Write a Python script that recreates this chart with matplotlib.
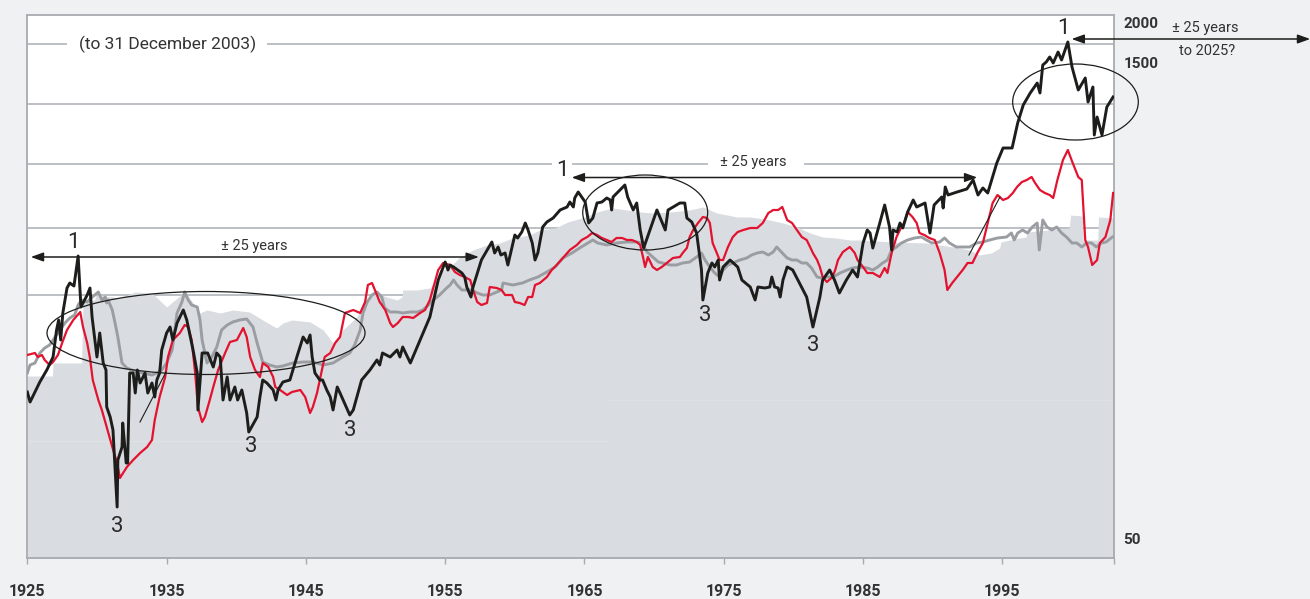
import numpy as np
import matplotlib
matplotlib.use("Agg")
import matplotlib.pyplot as plt
from matplotlib.patches import Ellipse

plt.rcParams['font.family'] = ['Roboto', 'DejaVu Sans']

# ---------------- data (year, index level) ----------------
black = [(1925.0,166),(1925.2,156),(1925.9,176),(1926.4,188),(1926.85,201),(1927.1,228),(1927.25,238),
 (1927.4,218),(1927.55,245),(1927.85,270),(1928.05,275),(1928.35,272),(1928.65,302),(1928.85,251),
 (1929.3,263),(1929.5,270),(1929.65,241),(1930.0,201),(1930.2,225),(1930.45,195),(1930.65,188),
 (1930.7,151),(1930.95,141),(1931.15,128),(1931.45,51),(1931.5,98),(1931.8,111),(1931.85,135),
 (1932.1,95),(1932.2,95),(1932.35,185),(1932.6,185),(1932.75,165),(1932.9,188),(1933.1,175),
 (1933.45,185),(1933.65,165),(1933.95,175),(1934.15,161),(1934.3,178),(1934.5,185),(1934.65,208),
 (1935.0,225),(1935.25,231),(1935.45,218),(1935.75,235),(1936.2,248),(1936.45,238),(1936.9,208),
 (1937.2,185),(1937.25,148),(1937.55,205),(1937.95,205),(1938.35,191),(1938.6,205),(1938.85,201),
 (1939.05,158),(1939.35,181),(1939.55,158),(1939.9,171),(1940.1,158),(1940.4,168),(1940.75,145),
 (1940.9,126),(1941.5,141),(1941.7,161),(1941.9,178),(1942.2,175),(1942.65,168),(1942.85,158),
 (1943.0,168),(1943.35,176),(1943.85,178),(1944.35,201),(1944.8,221),(1945.1,215),(1945.3,223),
 (1945.45,201),(1945.65,185),(1946.0,178),(1946.2,178),(1946.5,168),(1946.75,161),(1946.95,148),
 (1947.25,171),(1947.45,165),(1948.15,143),(1948.4,148),(1949.0,178),(1949.6,188),(1950.1,198),
 (1950.3,193),(1950.5,205),(1951.05,201),(1951.55,208),(1951.75,201),(1951.95,211),(1952.5,195),
 (1953.2,218),(1953.9,241),(1954.5,278),(1955.0,296),(1955.2,288),(1955.35,293),(1955.6,291),
 (1955.9,288),(1956.2,285),(1956.4,281),(1956.55,271),(1956.85,261),(1957.0,271),(1957.6,298),
 (1958.35,316),(1958.55,305),(1958.8,311),(1959.0,303),(1959.3,305),(1959.5,293),(1959.8,311),
 (1960.0,323),(1960.2,320),(1960.5,326),(1960.75,335),(1960.95,328),(1961.25,315),(1961.45,298),
 (1961.65,305),(1962.0,331),(1962.3,336),(1962.75,340),(1963.25,348),(1963.75,351),(1963.95,356),
 (1964.2,351),(1964.3,360),(1964.55,366),(1964.8,361),(1965.05,356),(1965.3,335),(1965.6,340),
 (1965.9,355),(1966.25,356),(1966.6,360),(1966.85,358),(1966.95,348),(1967.05,361),(1967.55,368),
 (1967.9,373),(1968.1,361),(1968.5,348),(1968.75,355),(1969.0,328),(1969.25,310),(1970.2,348),
 (1970.8,328),(1971.0,348),(1971.85,355),(1972.2,355),(1972.35,340),(1972.7,336),(1973.05,325),
 (1973.4,288),(1973.5,258),(1973.85,285),(1974.15,295),(1974.35,291),(1974.6,298),(1974.7,278),
 (1974.95,291),(1975.45,298),(1976.0,291),(1976.3,278),(1976.9,271),(1977.25,258),(1977.45,271),
 (1977.95,270),(1978.3,271),(1978.45,281),(1978.65,271),(1978.9,270),(1979.05,261),(1979.25,278),
 (1979.55,291),(1979.7,290),(1979.95,288),(1980.95,261),(1981.4,231),(1981.9,261),(1982.1,278),
 (1982.6,288),(1982.95,278),(1983.3,265),(1983.8,278),(1984.25,288),(1984.6,281),(1985.0,315),
 (1985.3,328),(1985.5,325),(1985.7,310),(1986.2,335),(1986.55,353),(1986.9,331),(1987.05,308),
 (1987.15,328),(1987.45,326),(1987.65,335),(1987.85,330),(1988.2,346),(1988.6,358),(1988.85,351),
 (1989.45,355),(1989.8,325),(1990.1,353),(1990.65,361),(1990.75,350),(1990.9,371),(1991.1,363),
 (1991.75,366),(1992.45,369),(1992.9,378),(1993.25,363),(1993.6,370),(1993.95,365),(1994.6,395),
 (1995.05,410),(1995.7,410),(1996.1,435),(1996.5,453),(1997.0,465),(1997.5,475),(1997.7,465),
 (1997.9,493),(1998.15,496),(1998.4,501),(1998.65,495),(1999.0,506),(1999.25,498),(1999.7,516),
 (2000.0,491),(2000.45,468),(2000.95,480),(2001.15,456),(2001.5,471),(2001.6,423),(2001.8,441),
 (2002.15,423),(2002.5,451),(2002.95,461)]

red = [(1925.0,203),(1925.55,205),(1925.75,201),(1926.05,203),(1926.25,198),(1926.6,193),(1926.85,196),
 (1927.2,203),(1927.5,215),(1927.85,228),(1928.3,238),(1928.8,246),(1929.0,231),(1929.3,215),
 (1929.5,200),(1929.7,178),(1930.1,158),(1930.35,148),(1930.7,131),(1931.1,111),(1931.45,95),
 (1931.65,80),(1932.15,91),(1932.6,98),(1933.1,105),(1933.6,111),(1933.95,118),(1934.15,138),
 (1934.5,161),(1934.9,181),(1935.1,201),(1935.45,218),(1935.95,225),(1936.3,233),(1936.55,231),
 (1936.8,218),(1937.05,185),(1937.25,151),(1937.55,136),(1937.75,141),(1938.1,158),(1938.35,171),
 (1938.7,188),(1939.2,205),(1939.55,216),(1940.05,218),(1940.5,230),(1940.75,221),(1941.0,201),
 (1941.35,188),(1941.7,181),(1941.9,195),(1942.3,191),(1942.65,181),(1942.8,171),(1943.15,168),
 (1943.65,163),(1944.0,166),(1944.6,168),(1944.95,161),(1945.3,145),(1945.5,151),(1945.8,165),
 (1946.0,178),(1946.35,201),(1946.75,205),(1947.1,215),(1947.45,221),(1947.8,245),(1948.4,248),
 (1948.9,245),(1949.25,256),(1949.45,273),(1949.75,275),(1949.95,268),(1950.3,256),(1950.7,248),
 (1951.05,235),(1951.25,231),(1951.6,235),(1951.95,241),(1952.35,241),(1952.7,240),(1953.2,245),
 (1953.55,248),(1953.9,258),(1954.1,268),(1954.5,288),(1954.85,295),(1955.35,293),(1955.7,286),
 (1956.05,283),(1956.4,281),(1956.8,278),(1957.0,268),(1957.3,256),(1957.6,253),(1958.0,255),
 (1958.2,271),(1958.7,270),(1959.05,268),(1959.3,263),(1959.8,263),(1960.0,256),(1960.35,255),
 (1960.7,253),(1960.95,261),(1961.25,261),(1961.45,273),(1961.8,275),(1962.3,281),(1962.65,288),
 (1963.0,293),(1963.45,300),(1963.95,308),(1964.45,313),(1964.8,318),(1965.2,321),(1965.55,325),
 (1965.9,323),(1966.25,320),(1966.6,318),(1966.95,316),(1967.3,320),(1967.7,320),(1968.05,318),
 (1968.4,318),(1968.75,316),(1969.0,313),(1969.2,301),(1969.35,291),(1969.55,301),(1969.9,291),
 (1970.2,288),(1970.55,291),(1970.9,295),(1971.35,300),(1971.85,301),(1972.05,305),(1972.35,310),
 (1972.55,321),(1972.8,328),(1973.15,335),(1973.5,341),(1973.8,340),(1974.0,335),(1974.2,315),
 (1974.5,305),(1974.7,298),(1974.95,298),(1975.3,311),(1975.65,321),(1976.0,326),(1976.4,328),
 (1976.9,330),(1977.4,330),(1977.8,335),(1978.2,345),(1978.55,348),(1978.9,348),(1979.2,351),
 (1979.55,338),(1979.9,335),(1980.25,328),(1980.6,321),(1980.95,318),(1981.2,311),(1981.4,305),
 (1981.7,298),(1981.9,291),(1982.1,281),(1982.4,276),(1982.8,281),(1983.0,288),(1983.2,298),
 (1983.55,306),(1984.05,311),(1984.4,305),(1984.6,298),(1985.0,291),(1985.3,285),(1985.7,285),
 (1986.2,281),(1986.55,290),(1986.75,285),(1987.05,305),(1987.4,321),(1987.75,331),(1987.95,335),
 (1988.2,346),(1988.55,341),(1988.85,335),(1989.05,325),(1989.4,323),(1989.75,320),(1990.15,318),
 (1990.5,305),(1990.85,288),(1991.05,268),(1991.4,275),(1991.75,281),(1992.15,288),(1992.5,295),
 (1992.85,295),(1993.2,305),(1993.6,315),(1993.95,335),(1994.3,355),(1994.65,363),(1995.05,358),
 (1995.4,360),(1995.75,365),(1996.05,371),(1996.4,376),(1996.75,378),(1997.1,381),(1997.35,375),
 (1997.7,368),(1998.05,365),(1998.4,363),(1998.65,360),(1998.95,378),(1999.15,388),(1999.35,398),
 (1999.7,408),(2000.05,395),(2000.45,381),(2000.7,378),(2000.95,318),(2001.15,311),(2001.45,293),
 (2001.8,298),(2002.0,315),(2002.4,321),(2002.75,338),(2002.95,365)]

grey = [(1925.0,185),(1925.2,193),(1925.55,195),(1925.9,205),(1926.25,210),(1926.6,213),(1927.0,221),
 (1927.35,228),(1927.7,235),(1928.05,240),(1928.4,243),(1928.65,253),(1928.9,258),(1929.3,256),
 (1929.65,261),(1929.85,263),(1930.1,266),(1930.35,258),(1930.6,261),(1930.7,255),(1930.8,258),
 (1931.1,248),(1931.3,235),(1931.5,221),(1931.8,195),(1932.15,190),(1932.5,188),(1932.9,186),
 (1933.25,185),(1933.6,184),(1933.95,183),(1934.3,185),(1934.65,188),(1935.0,195),(1935.4,208),
 (1935.75,245),(1936.1,256),(1936.3,266),(1936.55,258),(1936.8,253),(1937.2,251),(1937.4,238),
 (1937.55,218),(1937.9,195),(1938.25,201),(1938.6,211),(1938.95,228),(1939.35,233),(1939.75,236),
 (1940.25,238),(1940.75,239),(1941.2,231),(1941.5,215),(1941.9,196),(1942.4,193),(1942.9,191),
 (1943.35,192),(1944.05,195),(1944.8,196),(1945.5,196),(1946.25,193),(1946.95,195),(1947.65,201),
 (1948.15,205),(1948.5,213),(1948.9,228),(1949.1,245),(1949.4,256),(1949.75,263),(1950.1,266),
 (1950.45,261),(1950.65,250),(1951.05,246),(1951.55,246),(1951.95,245),(1952.5,246),(1953.0,246),
 (1953.4,248),(1953.8,253),(1954.15,258),(1954.6,263),(1955.1,270),(1955.35,273),(1955.6,278),
 (1955.85,273),(1956.2,268),(1956.55,268),(1956.9,268),(1957.3,265),(1957.7,263),(1958.2,263),
 (1958.7,266),(1959.05,268),(1959.15,275),(1959.85,273),(1960.55,275),(1961.05,278),(1961.65,281),
 (1962.3,286),(1962.9,291),(1963.45,300),(1964.1,305),(1964.65,310),(1965.25,315),(1965.6,318),
 (1965.95,315),(1966.6,313),(1967.3,315),(1968.05,316),(1968.75,316),(1969.1,315),(1969.5,306),
 (1969.9,301),(1970.3,296),(1970.6,295),(1971.15,293),(1971.6,293),(1972.05,295),(1972.55,296),
 (1973.05,301),(1973.4,305),(1973.65,298),(1974.0,291),(1974.35,285),(1974.7,281),(1974.95,288),
 (1975.3,293),(1975.65,295),(1976.15,298),(1976.65,300),(1977.0,303),(1977.4,305),(1977.8,306),
 (1978.2,303),(1978.55,306),(1978.8,311),(1979.2,305),(1979.55,300),(1979.9,298),(1980.25,298),
 (1980.6,295),(1980.95,295),(1981.3,290),(1981.7,281),(1982.05,280),(1982.4,281),(1982.85,281),
 (1983.35,285),(1983.85,288),(1984.25,290),(1984.75,291),(1985.3,290),(1985.7,288),(1986.05,291),
 (1986.4,295),(1986.75,298),(1987.05,308),(1987.4,311),(1987.75,315),(1988.2,318),(1988.7,320),
 (1989.2,321),(1989.55,318),(1989.95,315),(1990.5,316),(1990.85,320),(1991.2,315),(1991.7,311),
 (1992.15,311),(1992.65,311),(1993.15,315),(1993.6,316),(1994.1,318),(1994.65,320),(1995.3,321),
 (1995.65,325),(1995.85,318),(1996.1,325),(1996.45,328),(1996.8,325),(1997.15,331),(1997.5,335),
 (1997.65,308),(1997.9,338),(1998.2,331),(1998.55,328),(1998.9,331),(1999.25,325),(1999.6,321),
 (2000.0,315),(2000.35,315),(2000.7,311),(2001.05,315),(2001.4,315),(2001.75,311),(2002.1,315),
 (2002.45,316),(2002.9,321)]

band = [(1925.0,182),(1926.8,182),(1926.85,195),(1928.9,195),(1929.0,258),(1929.85,258),(1929.9,263),
 (1931.65,260),(1932.75,266),(1933.95,265),(1935.0,251),(1936.2,265),(1936.3,267),(1937.4,245),
 (1937.9,248),(1938.85,245),(1939.75,248),(1940.95,246),(1941.9,238),(1942.9,230),(1943.35,235),
 (1944.0,238),(1945.3,236),(1946.25,228),(1946.95,215),(1947.65,228),(1948.65,241),(1949.1,251),
 (1949.6,261),(1950.1,265),(1950.8,261),(1951.55,258),(1951.9,261),(1951.95,268),(1952.95,268),
 (1953.9,270),(1954.4,278),(1954.85,288),(1955.35,291),(1956.05,301),(1957.0,308),(1958.0,313),
 (1958.9,315),(1959.85,320),(1961.05,323),(1961.8,328),(1962.9,330),(1963.8,336),(1964.8,340),
 (1965.9,346),(1967.05,350),(1968.05,348),(1969.0,346),(1969.9,345),(1971.15,346),(1972.55,348),
 (1973.5,351),(1974.5,345),(1975.95,341),(1976.9,341),(1978.3,338),(1979.25,335),(1980.25,331),
 (1981.2,325),(1982.1,321),(1983.1,320),(1984.05,318),(1984.75,318),(1987.15,316),(1989.55,315),
 (1991.45,311),(1992.65,308),(1993.35,303),(1994.2,305),(1994.8,310),(1994.9,316),(1996.2,320),
 (1996.7,321),(1996.8,326),(1999.8,330),(1999.9,343),(2000.75,342),(2000.8,318),(2001.85,318),
 (2001.9,341),(2003.0,340)]

year_ticks = [1925, 1935, 1945, 1955, 1965, 1975, 1985, 1995]
grid_levels = [514, 454, 394, 330, 263]
right_labels = [("2000", 534), ("1500", 494), ("50", 18)]
trough_labels = [(1931.45, 32), (1941.05, 111), (1948.2, 127), (1973.65, 242), (1981.4, 212)]
peak_labels = [(1928.28, 315), (1963.45, 387), (1999.42, 529)]

# ---------------- figure ----------------
BG = '#f0f1f3'
FILL = '#d9dce0'
GRID = '#b0b4b9'
TXT = '#333333'
fig = plt.figure(figsize=(13.1, 5.99), dpi=100, facecolor=BG)
ax = fig.add_axes([27.3/1310, 41/599, 1086.5/1310, 543/599])
ax.set_facecolor('white')
ax.set_xlim(1925, 2003)
ax.set_ylim(0, 543)

# gridlines (behind the band), with gaps for labels
gaps = {514: [(1927.85, 1942.2)], 394: [(1962.65, 1964.1), (1973.85, 1980.75)]}
for lv in grid_levels:
    segs = []
    start = 1925
    for a, b in gaps.get(lv, []):
        segs.append((start, a)); start = b
    segs.append((start, 2003))
    for a, b in segs:
        ax.plot([a, b], [lv, lv], color=GRID, lw=1.2, zorder=0.5, solid_capstyle='butt')

bx, by = np.array(band).T
ax.fill_between(bx, 0, by, color=FILL, lw=0, zorder=1)
ax.plot([1925, 1966.6], [117, 117], color='#dfe2e5', lw=1, zorder=1.5)
ax.plot([1966.6, 2003], [158, 158], color='#dfe2e5', lw=1, zorder=1.5)

gx, gy = np.array(grey).T
ax.plot(gx, gy, color='#9a9ea3', lw=2.1, zorder=3)
rx, ry = np.array(red).T
ax.plot(rx, ry, color='#e3122f', lw=1.6, zorder=4)
kx, ky = np.array(black).T
ax.plot(kx, ky, color='#1d1d1b', lw=2.1, zorder=5)

# ellipses
for (cx, cy, w, h) in [(1937.83, 225, 22.83, 83), (1969.36, 345.5, 8.97, 75), (2000.25, 456, 9.02, 76)]:
    ax.add_patch(Ellipse((cx, cy), w, h, fill=False, ec='#1d1d1b', lw=0.9, zorder=6, clip_on=False))

# thin trend lines
ax.plot([1933.09, 1934.96], [136, 186], color='#1d1d1b', lw=0.8, zorder=6)
ax.plot([1992.6, 1994.83], [303, 361], color='#1d1d1b', lw=0.8, zorder=6)

# arrows
arrow_kw = dict(arrowstyle='<|-|>,head_length=0.75,head_width=0.27', color='#1d1d1b', lw=1.1,
                shrinkA=0, shrinkB=0, mutation_scale=10)
for (x0, x1, yv) in [(1925.25, 1957.42, 301), (1964.08, 1993.2, 380.5), (1999.97, 2017.1, 519)]:
    ax.annotate('', xy=(x1, yv), xytext=(x0, yv), arrowprops=arrow_kw, annotation_clip=False, zorder=7)

# texts
ax.text(1935.07, 514, '(to 31 December 2003)', ha='center', va='center', fontsize=12.5, color=TXT, zorder=8)
ax.text(1941.27, 312, '± 25 years', ha='center', va='center', fontsize=10.5, color=TXT, zorder=8)
ax.text(1977.1, 396, '± 25 years', ha='center', va='center', fontsize=10.5, color=TXT, zorder=8)
ax.text(2009.6, 530, '± 25 years', ha='center', va='center', fontsize=10.5, color=TXT, zorder=8, clip_on=False)
ax.text(2009.68, 507, 'to 2025?', ha='center', va='center', fontsize=10.5, color=TXT, zorder=8, clip_on=False)
for (x, y) in peak_labels:
    ax.text(x, y, '1', ha='center', va='center', fontsize=16, color='#2a2a2a', zorder=8)
for (x, y) in trough_labels:
    ax.text(x, y, '3', ha='center', va='center', fontsize=16, color='#2a2a2a', zorder=8)
for lab, y in right_labels:
    ax.text(2003.7, y, lab, ha='left', va='center', fontsize=11, fontweight='bold', color=TXT, clip_on=False)

# axes styling
for s in ax.spines.values():
    s.set_color('#a7abb0'); s.set_linewidth(1.3)
ax.set_yticks([])
ax.set_xticks(year_ticks)
ax.set_xticklabels([str(y) for y in year_ticks], fontweight='bold', fontsize=11.5, color=TXT)
ax.set_xticks([2003], minor=True)
ax.tick_params(axis='x', which='both', direction='out', length=4, width=1, color='#a7abb0', pad=15)

fig.savefig('out.png', dpi=100, facecolor=BG)
